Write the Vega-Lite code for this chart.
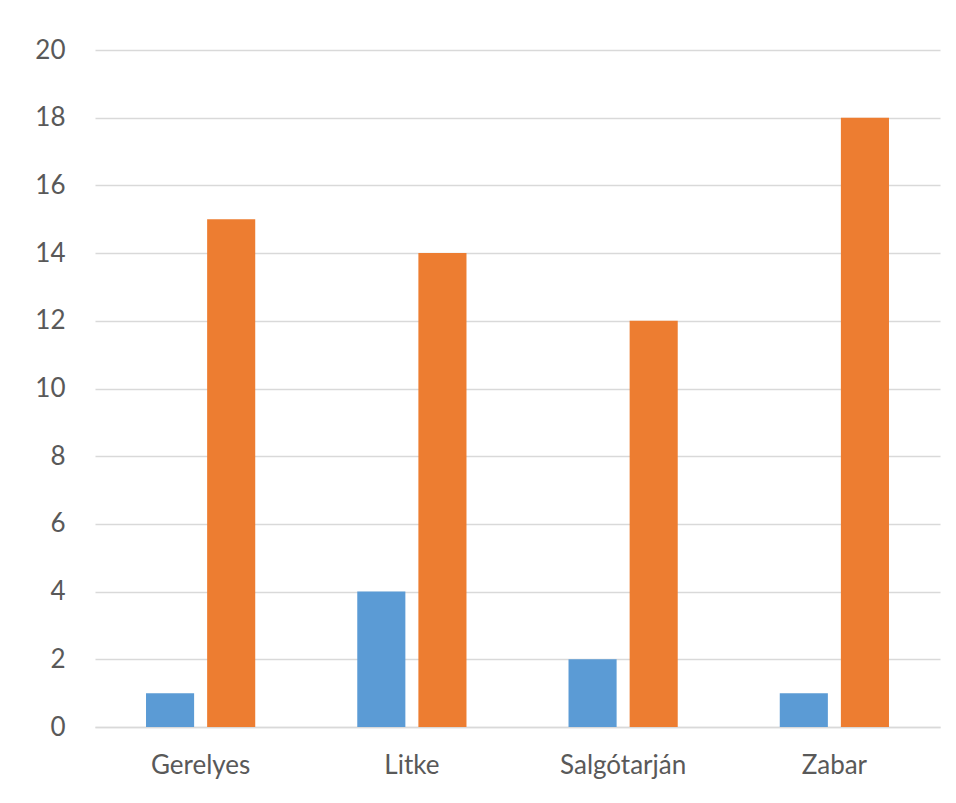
{
  "$schema": "https://vega.github.io/schema/vega-lite/v6.json",
  "autosize": "none",
  "width": 845,
  "height": 677,
  "padding": {"left": 95, "top": 50, "right": 16, "bottom": 76},
  "background": "white",
  "config": {
    "view": {"stroke": null},
    "font": "Lato"
  },
  "data": {
    "values": [
      {"telepules": "Gerelyes", "sorozat": "Sorozat1", "ertek": 1},
      {"telepules": "Gerelyes", "sorozat": "Sorozat2", "ertek": 15},
      {"telepules": "Litke", "sorozat": "Sorozat1", "ertek": 4},
      {"telepules": "Litke", "sorozat": "Sorozat2", "ertek": 14},
      {"telepules": "Salgótarján", "sorozat": "Sorozat1", "ertek": 2},
      {"telepules": "Salgótarján", "sorozat": "Sorozat2", "ertek": 12},
      {"telepules": "Zabar", "sorozat": "Sorozat1", "ertek": 1},
      {"telepules": "Zabar", "sorozat": "Sorozat2", "ertek": 18}
    ]
  },
  "mark": {"type": "bar"},
  "encoding": {
    "x": {
      "field": "telepules",
      "type": "nominal",
      "sort": null,
      "scale": {"paddingInner": 0.483, "paddingOuter": 0.2415},
      "axis": {
        "title": null,
        "labelAngle": 0,
        "labelFontSize": 26,
        "labelColor": "#595959",
        "labelPadding": 25,
        "ticks": false,
        "domainColor": "#D9D9D9",
        "domainWidth": 1.5,
        "grid": false
      }
    },
    "xOffset": {
      "field": "sorozat",
      "type": "nominal",
      "scale": {"paddingInner": 0.213, "paddingOuter": 0}
    },
    "y": {
      "field": "ertek",
      "type": "quantitative",
      "scale": {"domain": [0, 20], "nice": false},
      "axis": {
        "title": null,
        "values": [0, 2, 4, 6, 8, 10, 12, 14, 16, 18, 20],
        "labelFontSize": 26,
        "labelColor": "#595959",
        "labelPadding": 30,
        "ticks": false,
        "domain": false,
        "grid": true,
        "gridColor": "#D9D9D9",
        "gridWidth": 1.5
      }
    },
    "color": {
      "field": "sorozat",
      "type": "nominal",
      "scale": {"range": ["#5B9BD5", "#ED7D31"]},
      "legend": null
    }
  }
}
